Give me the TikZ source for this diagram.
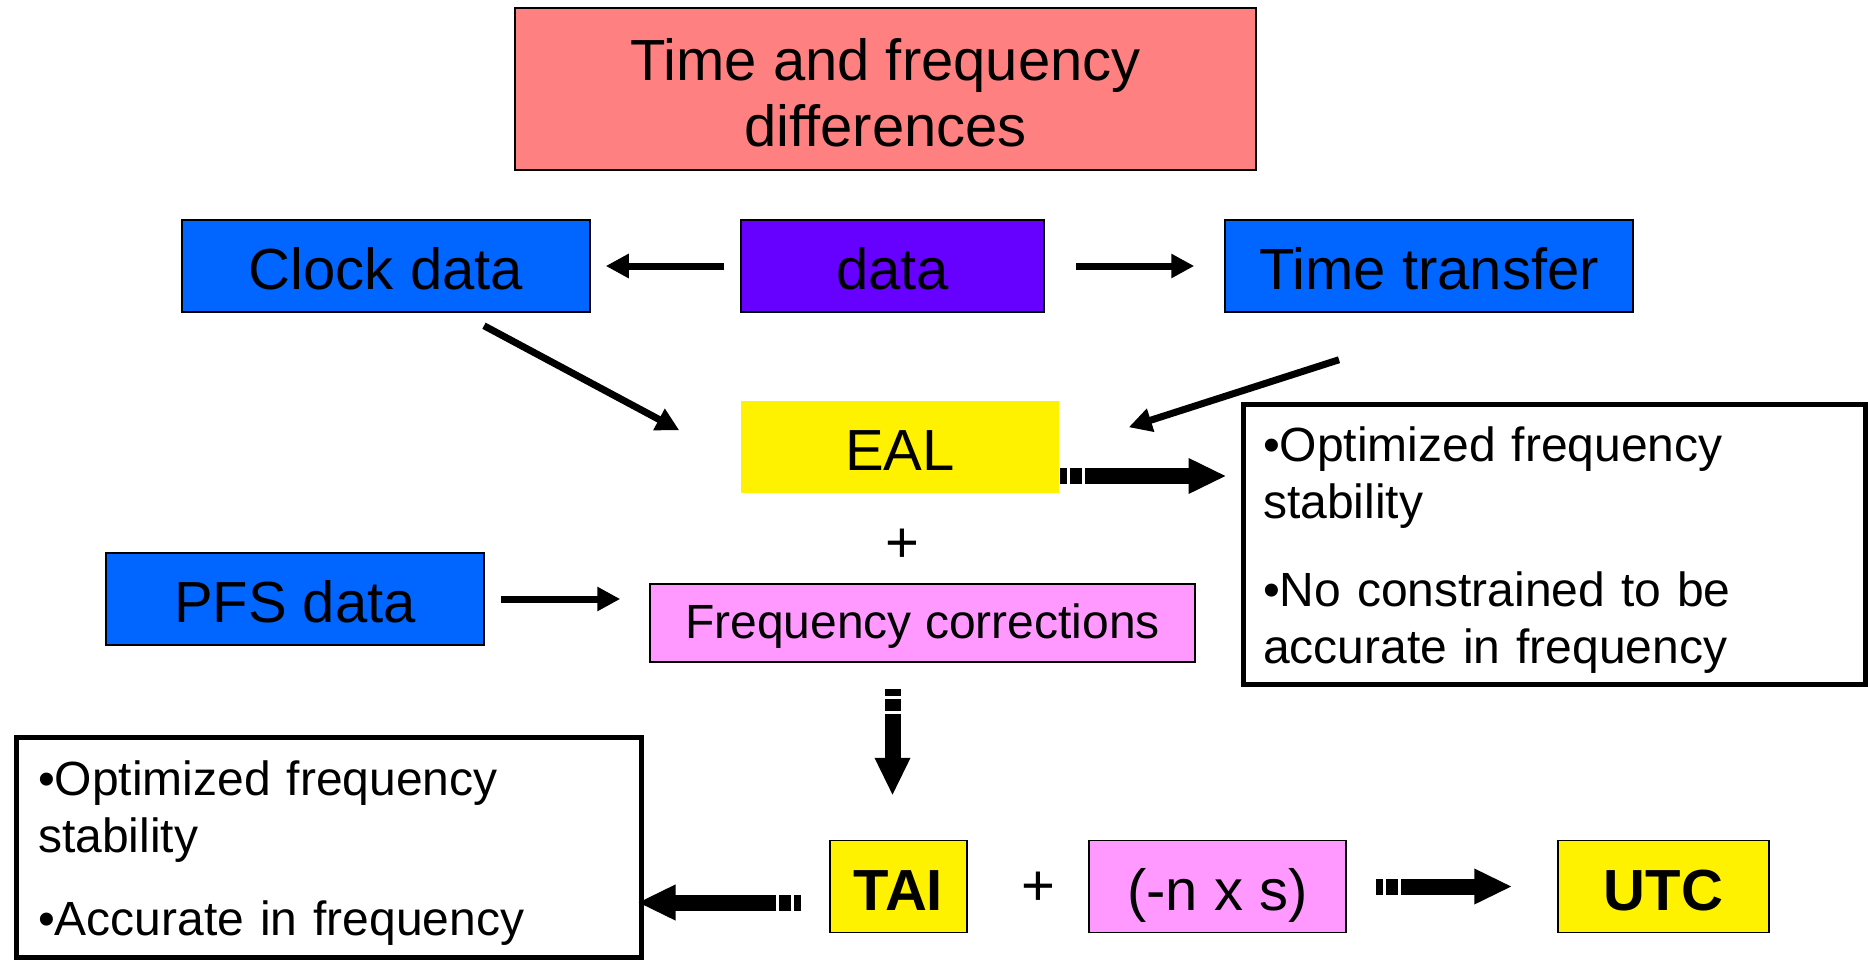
\documentclass[tikz,border=0pt]{standalone}
\usepackage{fontspec}
\setmainfont{Liberation Sans}
\usetikzlibrary{arrows.meta,calc}
\definecolor{titlered}{HTML}{FF8080}
\definecolor{boxblue}{HTML}{0066FF}
\definecolor{datapurple}{HTML}{6600FF}
\definecolor{corrpink}{HTML}{FF99FF}
\begin{document}
\begin{tikzpicture}[x=1pt,y=-1pt,inner sep=0pt]
  \tikzstyle{v}=[draw,line width=1.5pt,minimum height=92pt,text height=52pt,text depth=5pt,font=\fontsize{58}{66}\selectfont]
  \tikzstyle{n}=[draw,line width=5pt,text width=582pt,inner xsep=20pt,align=left,font=\fontsize{48}{57}\selectfont]
  \useasboundingbox(0,0)rectangle(1868,961);
  \node[draw,line width=1.5pt,fill=titlered,minimum width=741pt,minimum height=162pt,align=center,font=\fontsize{58}{66}\selectfont](title)at(885.5,89){\rule{0pt}{50pt}Time and frequency\\differences};
  \node[v,fill=boxblue,minimum width=408pt](clock)at(386,266){Clock data};
  \node[v,fill=datapurple,minimum width=303pt](data)at(892.5,266){data};
  \node[v,fill=boxblue,minimum width=408pt](tt)at(1429,266){Time transfer};
  \node[v,draw=none,fill=yellow,minimum width=318pt](eal)at(900,447){EAL};
  \node[font=\fontsize{58}{66}\selectfont](plus1)at(902,546){+};
  \node[v,fill=corrpink,minimum width=545pt,minimum height=78pt,text height=36pt,font=\fontsize{48}{57}\selectfont](freq)at(922.5,623){Frequency corrections};
  \node[v,fill=boxblue,minimum width=378pt](pfs)at(295,599){PFS data};
  \node[n,minimum height=280pt](note1)at(1554,544){\rule{0pt}{47pt}•Optimized frequency\\stability\\[31pt]•No constrained to be\\accurate in frequency};
  \node[v,fill=yellow,minimum width=137pt,font=\fontsize{58}{66}\selectfont\bfseries](tai)at(898.5,886.5){TAI};
  \node[font=\fontsize{58}{66}\selectfont](plus2)at(1038,889){+};
  \node[v,fill=corrpink,minimum width=257pt](nxs)at(1217.5,886.5){(-n x s)};
  \node[v,fill=yellow,minimum width=211pt,font=\fontsize{58}{66}\selectfont\bfseries](utc)at(1663.5,886.5){UTC};
  \node[n,text width=581pt,inner xsep=22pt,minimum height=220pt](note2)at(328.5,847){\rule{0pt}{47pt}•Optimized frequency\\stability\\[26pt]•Accurate in frequency};
  % thin arrows
  \tikzstyle{e}=[-{Triangle[length=23pt,width=23pt]},line width=7pt]
  \foreach\o/\d/\s/\t in{data.west/clock.east/16/15,data.east/tt.west/31/30,pfs.east/pfs.east-|freq.west/16/29}{\draw[e,shorten <=\s pt,shorten >=\t pt](\o)--(\d);}
  \draw[e]([shift={(98,13)}]clock.south)--([shift={(-61,30)}]eal.north west);
  \draw[e]([shift={(-90,47)}]tt.south)--([shift={(69,27)}]eal.north east);
  % block arrows with striped tails
  \tikzstyle{f}=[-{Triangle[length=38pt,width=33pt]},line width=16pt,dash pattern=on 7pt off 3pt on 12pt off 3pt on 2000pt off 1pt]
  \draw[f,shorten >=14pt]($(eal.east)+(0,29)$)--($(eal.east-|note1.west)+(0,29)$);
  \draw[f,shorten <=26pt,shorten >=44pt]($(tai.north|-freq.south)+(-6,0)$)--($(tai.north)+(-6,0)$);
  \draw[f,shorten <=28pt,shorten >=-6pt]($(tai.west)+(0,16)$)--($(tai.west-|note2.east)+(0,16)$);
  \draw[f,shorten <=29pt,shorten >=45pt](nxs.east)--(utc.west);
\end{tikzpicture}
\end{document}
